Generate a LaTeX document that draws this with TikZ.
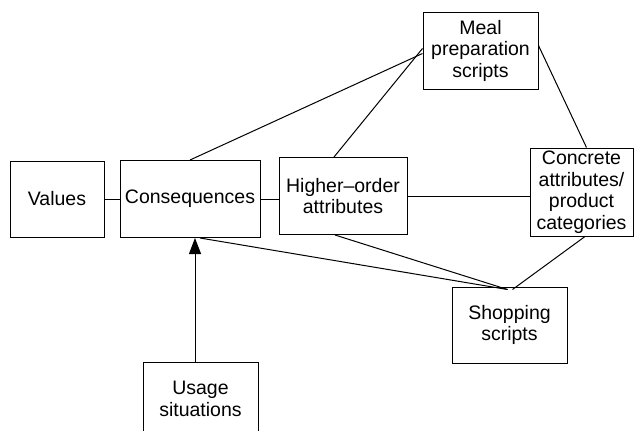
\documentclass[tikz,border=0pt]{standalone}
\usepackage{fontspec}
\setmainfont{Liberation Sans}
\usetikzlibrary{arrows.meta}
\begin{document}
\begin{tikzpicture}[x=1pt,y=-1pt,
  box/.style={draw,line width=1pt,inner sep=0pt,align=center,
    font=\fontsize{19.5pt}{21.5pt}\selectfont},
  link/.style={line width=1pt}]
\useasboundingbox (0,0) rectangle (635,431);
\node[box,minimum width=94pt,minimum height=76pt] (val) at (57,199) {Values};
\node[box,minimum width=140pt,minimum height=77pt] (cons) at (190,199) {Consequences};
\node[box,minimum width=128pt,minimum height=77pt] (ho) at (343,196) {Higher--order\\attributes};
\node[box,minimum width=103pt,minimum height=88pt] (con) at (581.5,192) {Concrete\\attributes/\\product\\categories};
\node[box,minimum width=115pt,minimum height=77pt] (meal) at (480.5,50.5) {Meal\\preparation\\scripts};
\node[box,minimum width=115pt,minimum height=76pt] (shop) at (509.5,325) {Shopping\\scripts};
\node[box,minimum width=115pt,minimum height=74pt] (use) at (200.5,399) {Usage\\situations};
\draw[link] (val.east) -- (cons.west);
\draw[link] (cons.east) -- (ho.west |- cons.east);
\draw[link] (cons.north) -- ([yshift=-3pt]meal.west);
\draw[link] ([xshift=-9pt]ho.north) -- ([yshift=2pt]meal.west);
\draw[link] ([yshift=5pt]meal.east) -- ([xshift=5pt]con.north);
\draw[link] (ho.east) -- (con.west |- ho.east);
\draw[link] ([xshift=-8pt]ho.south) -- ([xshift=-2pt,yshift=-3pt]shop.north);
\draw[link] ([xshift=10pt]cons.south) -- ([xshift=-2pt,yshift=-3pt]shop.north);
\draw[link] ([xshift=3.5pt]con.south) -- ([xshift=3pt,yshift=-3pt]shop.north);
\draw[link,-{Triangle[length=16pt,width=12pt]}] ([xshift=-5.5pt]use.north) -- ([xshift=-5.5pt]use.north |- cons.south);
\end{tikzpicture}
\end{document}
